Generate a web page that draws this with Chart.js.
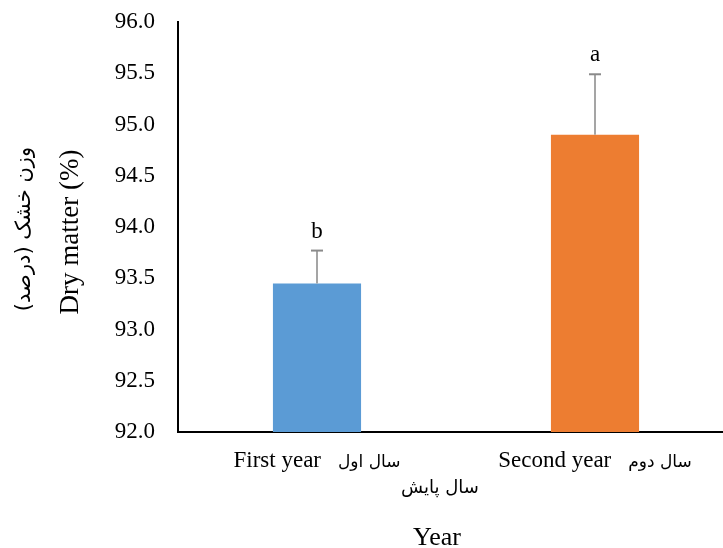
<!DOCTYPE html>
<html>
<head>
<meta charset="utf-8">
<script src="https://cdn.jsdelivr.net/npm/chart.js@4"></script>
<style>
  html, body { margin: 0; padding: 0; background: #fff; overflow: hidden; }
  #wrap { width: 734px; height: 548px; }
</style>
</head>
<body>
<div id="wrap"><canvas id="myChart" width="734" height="548"></canvas></div>
<script>
// data
var categories = ['First year', 'Second year']
var categoriesFa = ['سال اول', 'سال دوم']
var dryMatter = [93.45, 94.9]
var errors = [0.32, 0.59]
var letters = ['b', 'a']
var yTickValues = [92.0, 92.5, 93.0, 93.5, 94.0, 94.5, 95.0, 95.5, 96.0]

var serif = '"Liberation Serif", "Times New Roman", serif'
var arabic = '"DejaVu Sans", sans-serif'

var extras = {
    id: 'extras',
    afterDatasetsDraw: function(chart){
        var ctx = chart.ctx
        var y = chart.scales.y
        var meta = chart.getDatasetMeta(0)
        ctx.save()
        meta.data.forEach(function(bar, i){
            var top = y.getPixelForValue(dryMatter[i] + errors[i])
            var base = y.getPixelForValue(dryMatter[i])
            ctx.strokeStyle = '#a5a5a5'
            ctx.lineWidth = 2
            ctx.beginPath()
            ctx.moveTo(bar.x, base)
            ctx.lineTo(bar.x, top)
            ctx.stroke()
            ctx.strokeStyle = '#8a8a8a'
            ctx.beginPath()
            ctx.moveTo(bar.x - 6, top)
            ctx.lineTo(bar.x + 6, top)
            ctx.stroke()
            ctx.fillStyle = '#000'
            ctx.font = '23px ' + serif
            ctx.textAlign = 'center'
            ctx.textBaseline = 'middle'
            ctx.fillText(letters[i], bar.x, top - 19)
        })
        ctx.restore()
    },
    afterDraw: function(chart){
        var ctx = chart.ctx
        var x = chart.scales.x
        var area = chart.chartArea
        ctx.save()
        ctx.fillStyle = '#000'
        ctx.textBaseline = 'alphabetic'
        // category labels: english + persian
        categories.forEach(function(c, i){
            var cx = x.getPixelForValue(i)
            ctx.font = '23px ' + serif
            var w1 = ctx.measureText(c).width
            ctx.font = '17px ' + arabic
            var w2 = ctx.measureText(categoriesFa[i]).width
            var gap = 17
            var start = cx - (w1 + gap + w2) / 2
            ctx.textAlign = 'left'
            ctx.font = '23px ' + serif
            ctx.fillText(c, start, area.bottom + 35)
            ctx.font = '17px ' + arabic
            ctx.direction = 'rtl'
            ctx.textAlign = 'right'
            ctx.fillText(categoriesFa[i], start + w1 + gap + w2, area.bottom + 35)
            ctx.direction = 'ltr'
        })
        // x axis titles
        ctx.textAlign = 'center'
        ctx.font = '18px ' + arabic
        ctx.direction = 'rtl'
        ctx.fillText('سال پایش', area.left + 262, area.bottom + 61)
        ctx.direction = 'ltr'
        ctx.font = '26px ' + serif
        ctx.fillText('Year', area.left + 259, area.bottom + 113)
        // y axis titles
        ctx.save()
        ctx.translate(71, (area.top + area.bottom) / 2 + 5)
        ctx.rotate(-Math.PI / 2)
        ctx.textBaseline = 'middle'
        ctx.font = '27px ' + serif
        ctx.fillText('Dry matter (%)', 0, 0)
        ctx.restore()
        ctx.save()
        ctx.translate(25, (area.top + area.bottom) / 2 + 2)
        ctx.rotate(-Math.PI / 2)
        ctx.textBaseline = 'middle'
        ctx.direction = 'rtl'
        ctx.font = '21px ' + arabic
        ctx.fillText('وزن خشک (درصد)', 0, 0)
        ctx.restore()
        ctx.restore()
    }
}

var myChart = document.getElementById('myChart').getContext('2d')
var chart = new Chart(myChart, {
    type: 'bar',
    data: {
        labels: categories,
        datasets: [{
            data: dryMatter,
            backgroundColor: ['#5b9bd5', '#ed7d31'],
            borderWidth: 0,
            categoryPercentage: 1,
            barPercentage: 0.317
        }]
    },
    options: {
        responsive: false,
        animation: false,
        devicePixelRatio: 1,
        layout: { padding: { top: 22, right: 0, bottom: 116, left: 0 } },
        plugins: {
            legend: { display: false },
            tooltip: { enabled: false }
        },
        scales: {
            x: {
                grid: { display: false, drawTicks: false },
                border: { display: true, color: '#000', width: 2 },
                ticks: { display: false }
            },
            y: {
                min: 92,
                max: 96,
                afterBuildTicks: function(scale){
                    scale.ticks = yTickValues.map(function(v){ return { value: v } })
                },
                afterFit: function(scale){
                    scale.width = 178
                    scale.paddingTop = 0
                    scale.paddingBottom = 0
                },
                grid: { display: false, drawTicks: false },
                border: { display: true, color: '#000', width: 2 },
                ticks: {
                    padding: 23,
                    color: '#000',
                    font: { family: serif, size: 23 },
                    callback: function(v){ return Number(v).toFixed(1) }
                }
            }
        }
    },
    plugins: [extras]
})
</script>
</body>
</html>
